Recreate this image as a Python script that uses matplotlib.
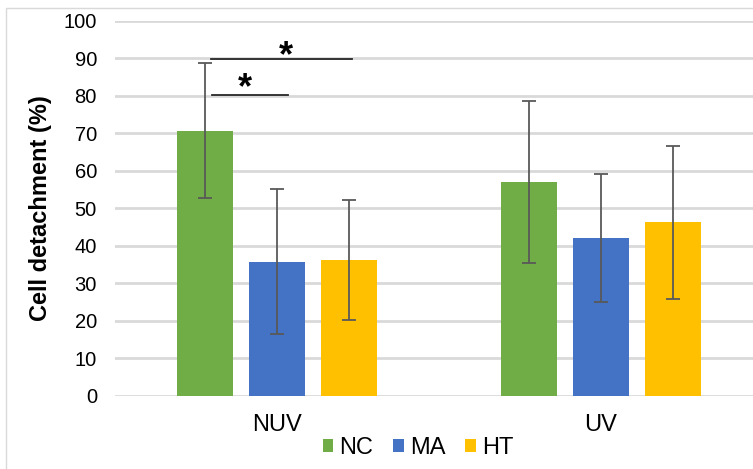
import matplotlib
matplotlib.use("Agg")
import matplotlib.pyplot as plt
import numpy as np
from matplotlib.patches import Rectangle

plt.rcParams['font.family'] = ['Liberation Sans', 'DejaVu Sans']

groups = ["NUV", "UV"]
series = ["NC", "MA", "HT"]
means = {
    "NC": [70.6, 56.9],
    "MA": [35.7, 42.1],
    "HT": [36.3, 46.2],
}
errs = {
    "NC": [18.0, 21.6],
    "MA": [19.3, 17.0],
    "HT": [16.0, 20.3],
}
colors = {"NC": "#70ad47", "MA": "#4472c4", "HT": "#ffc000"}
yticks = [0, 10, 20, 30, 40, 50, 60, 70, 80, 90, 100]

W, H = 753, 469
fig = plt.figure(figsize=(W / 100, H / 100), dpi=100)
ax = fig.add_axes([115 / W, 1 - 395.7 / H, (753 - 115) / W, (395.7 - 20.7) / H])

x = np.arange(len(groups))
bw = 0.173
step = 0.221
for i, s in enumerate(series):
    pos = x + (i - 1) * step
    ax.bar(pos, means[s], width=bw, color=colors[s], label=s, zorder=2)
    ax.errorbar(pos, means[s], yerr=errs[s], fmt="none", ecolor="#595959",
                elinewidth=1.3, capsize=5, capthick=1.3, zorder=3)

ax.set_xlim(-0.5, (753 - 277) / 324)
ax.set_ylim(0, 100)
ax.set_yticks(yticks)
ax.yaxis.grid(True, color="#d9d9d9", linewidth=2.0, zorder=0)
ax.set_axisbelow(True)
for sp in ax.spines.values():
    sp.set_visible(False)
ax.tick_params(axis="both", length=0, colors="#000000")
ax.tick_params(axis="y", pad=13, labelsize=14.5)
ax.tick_params(axis="x", pad=13, labelsize=17)
ax.set_xticks(x)
ax.set_xticklabels(groups)
ax.set_ylabel("Cell detachment (%)", fontsize=17, fontweight="bold", labelpad=8)

# significance markers
ax.plot([-0.204, 0.231], [89.7, 89.7], color="#262626", lw=1.3, zorder=4)
ax.text(0.027, 87.8, "*", ha="center", va="baseline", fontsize=26, fontweight="bold")
ax.plot([-0.200, 0.034], [80.1, 80.1], color="#262626", lw=1.3, zorder=4)
ax.text(-0.098, 79.4, "*", ha="center", va="baseline", fontsize=26, fontweight="bold")

leg = fig.legend(loc="center", bbox_to_anchor=(418 / W, 1 - 448 / H), ncol=3,
                 frameon=False, fontsize=17, handlelength=0.45, handleheight=0.45,
                 handletextpad=0.25, columnspacing=0.85)

fig.patches.append(Rectangle((6 / W, -0.05), 1.2, 1 - 8 / H + 0.05,
                             transform=fig.transFigure, fill=False,
                             edgecolor="#d9d9d9", linewidth=1.0))

fig.savefig("out.png", dpi=100)
